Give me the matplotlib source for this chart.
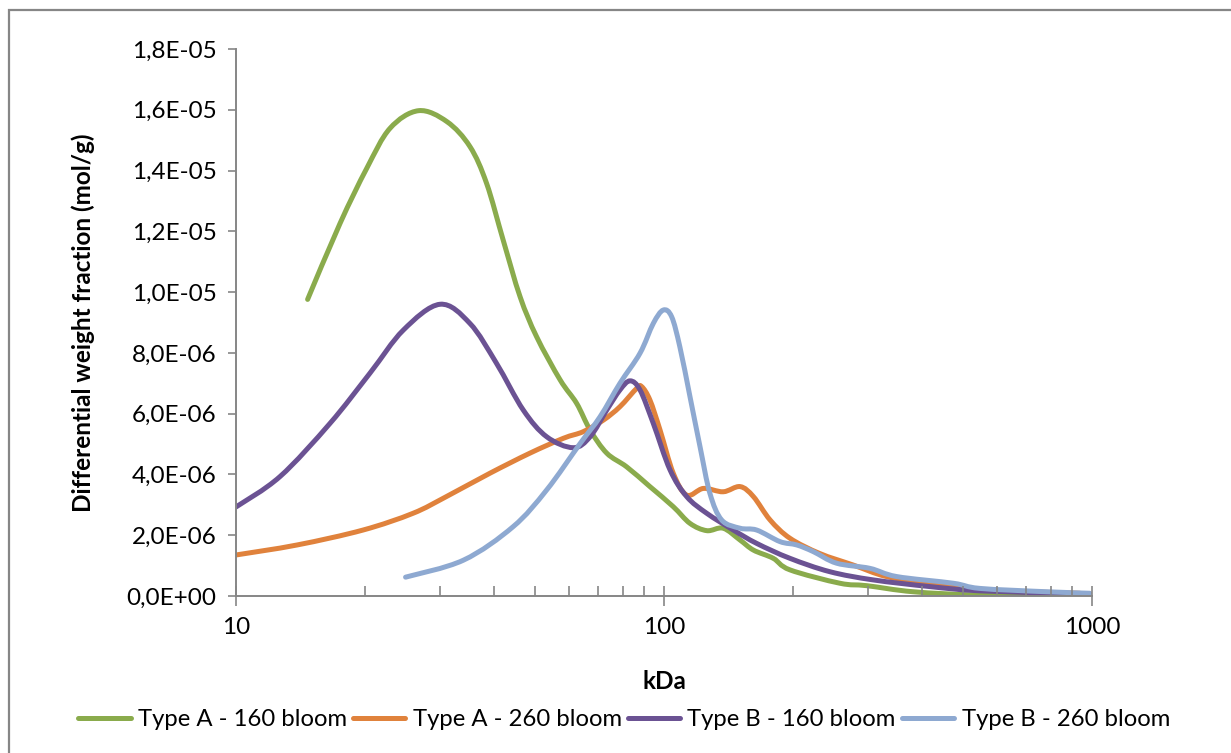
import matplotlib
matplotlib.use('Agg')
import matplotlib.pyplot as plt
import numpy as np
from matplotlib.patches import Rectangle, PathPatch
from matplotlib.path import Path
from matplotlib.lines import Line2D
from matplotlib.ticker import FixedLocator, FuncFormatter, NullFormatter, LogLocator

plt.rcParams['font.family'] = ['Lato', 'DejaVu Sans']

# molecular weight (kDa) and differential weight fraction (x 1e-6 mol/g)
a160_kda = [14.7, 17.5, 20.2, 22.9, 26.7, 31.1, 35.2, 38.5, 42.1, 46.1, 50.4, 57.2, 62.5,
            67.2, 73.5, 81.8, 92.7, 105.1, 115.0, 125.9, 137.5, 150.6, 161.8, 180, 196.9,
            257.6, 297.6, 382, 547, 937]
a160_val = [9.76, 12.26, 14.07, 15.39, 15.97, 15.61, 14.79, 13.58, 11.71, 9.85, 8.53, 7.11, 6.34,
            5.46, 4.70, 4.25, 3.60, 2.94, 2.39, 2.15, 2.23, 1.84, 1.51, 1.24, 0.86,
            0.42, 0.34, 0.14, 0.03, 0.0]

a260_kda = [10.0, 13.9, 19.8, 25.9, 31.0, 39.2, 48.6, 58.2, 64.8, 72.2, 78.9, 86.3, 88.7,
            92.7, 97.9, 105.1, 113, 123.6, 137.5, 150.6, 161.8, 177, 196.9, 231, 276.6,
            331, 418, 547, 937]
a260_val = [1.35, 1.68, 2.17, 2.72, 3.27, 4.04, 4.70, 5.19, 5.41, 5.79, 6.23, 6.83, 6.89,
            6.45, 5.46, 4.04, 3.32, 3.54, 3.43, 3.60, 3.27, 2.50, 1.90, 1.40, 1.02,
            0.64, 0.42, 0.20, 0.09]

b160_kda = [10.0, 12.67, 16.58, 20.55, 24.6, 29.97, 35.2, 40.6, 46.9, 53.2, 61.4, 67.2, 73.5,
            78.9, 83.3, 87.9, 94.4, 103.3, 113, 125.9, 145.2, 164.7, 196.9, 244, 308,
            418, 547, 937]
b160_val = [2.93, 3.93, 5.68, 7.33, 8.75, 9.60, 8.97, 7.66, 6.12, 5.24, 4.88, 5.24, 6.12,
            6.78, 7.08, 6.78, 5.68, 4.15, 3.27, 2.72, 2.17, 1.73, 1.24, 0.80, 0.53,
            0.31, 0.17, 0.07]

b260_kda = [24.9, 34.0, 44.4, 53.2, 63.7, 70.9, 78.9, 87.9, 94.4, 99.6, 104.2, 108.9, 115.0,
            121.4, 128.0, 136.4, 150.6, 164.7, 186.6, 204.2, 223.3, 253, 302.7, 349.6,
            474, 547, 783, 988]
b260_val = [0.62, 1.18, 2.28, 3.49, 5.02, 5.90, 7.00, 7.99, 8.97, 9.41, 9.19, 8.20, 6.56,
            4.91, 3.38, 2.50, 2.23, 2.17, 1.79, 1.68, 1.46, 1.08, 0.91, 0.64,
            0.42, 0.25, 0.14, 0.09]

series = [
    ('Type A - 160 bloom', a160_kda, a160_val, '#8AAB4C'),
    ('Type A - 260 bloom', a260_kda, a260_val, '#E0823C'),
    ('Type B - 160 bloom', b160_kda, b160_val, '#6B5293'),
    ('Type B - 260 bloom', b260_kda, b260_val, '#8EA9D1'),
]


def smooth_path(x, y):
    # spreadsheet-style smoothed line: cubic Bezier segments through every point,
    # control points built in log-x space so the curve is smooth on the log axis
    lx = np.log10(x)
    y = np.asarray(y, float)
    n = len(lx)
    verts = [(x[0], y[0])]
    codes = [Path.MOVETO]
    for i in range(n - 1):
        i0, i3 = max(i - 1, 0), min(i + 2, n - 1)
        c1 = (lx[i] + (lx[i + 1] - lx[i0]) / 6, y[i] + (y[i + 1] - y[i0]) / 6)
        c2 = (lx[i + 1] - (lx[i3] - lx[i]) / 6, y[i + 1] - (y[i3] - y[i]) / 6)
        verts += [(10 ** c1[0], c1[1]), (10 ** c2[0], c2[1]), (x[i + 1], y[i + 1])]
        codes += [Path.CURVE4] * 3
    return Path(verts, codes)


fig = plt.figure(figsize=(12.31, 7.53), dpi=100)
ax = fig.add_axes([236 / 1231, 1 - 596 / 753, 856 / 1231, 547 / 753])

ax.set_xscale('log')
ax.set_xlim(10, 1000)
ax.set_ylim(0, 1.8e-5)

handles = []
for label, x, y, color in series:
    path = smooth_path(np.array(x, float), np.array(y) * 1e-6)
    ax.add_patch(PathPatch(path, fill=False, edgecolor=color, lw=3.6,
                           capstyle='round', joinstyle='round'))
    handles.append(Line2D([], [], color=color, lw=3.6, solid_capstyle='round', label=label))

grey = '#868686'
fs = 17.5
ax.set_yticks(np.arange(0, 1.81e-5, 2e-6))
ax.yaxis.set_major_formatter(FuncFormatter(lambda v, p: f'{v:.1E}'.replace('.', ',')))
ax.xaxis.set_major_locator(FixedLocator([10, 100, 1000]))
ax.xaxis.set_major_formatter(FuncFormatter(lambda v, p: f'{v:g}'))
ax.xaxis.set_minor_locator(LogLocator(base=10, subs=np.arange(2, 10)))
ax.xaxis.set_minor_formatter(NullFormatter())

ax.tick_params(axis='y', direction='out', length=6, width=1.2, color=grey, labelsize=fs, pad=8)
ax.tick_params(axis='x', which='major', direction='inout', length=14, width=1.2, color=grey,
               labelsize=fs, pad=8)
ax.tick_params(axis='x', which='minor', direction='in', length=7, width=1.2, color=grey)

for side in ['top', 'right']:
    ax.spines[side].set_visible(False)
for side in ['left', 'bottom']:
    ax.spines[side].set_color(grey)
    ax.spines[side].set_linewidth(1.4)

ax.set_xlabel('kDa', fontsize=fs, fontweight='bold')
ax.xaxis.set_label_coords(0.5, -0.135)
ax.set_ylabel('Differential weight fraction (mol/g)', fontsize=fs, fontweight='bold')
ax.yaxis.set_label_coords(-0.165, 0.5)

fig.legend(handles=handles, loc='center', bbox_to_anchor=(624 / 1231, 1 - 720 / 753), ncol=4,
           frameon=False, fontsize=17.2, handlelength=2.2, handletextpad=0.3, columnspacing=0.25)

# chart frame
fig.patches.append(Rectangle((8.5 / 1231, -0.1), 1.2, 1 - 10.5 / 753 + 0.1,
                             transform=fig.transFigure, fill=False, edgecolor=grey, lw=1.6))

plt.savefig('out.png', dpi=100)
